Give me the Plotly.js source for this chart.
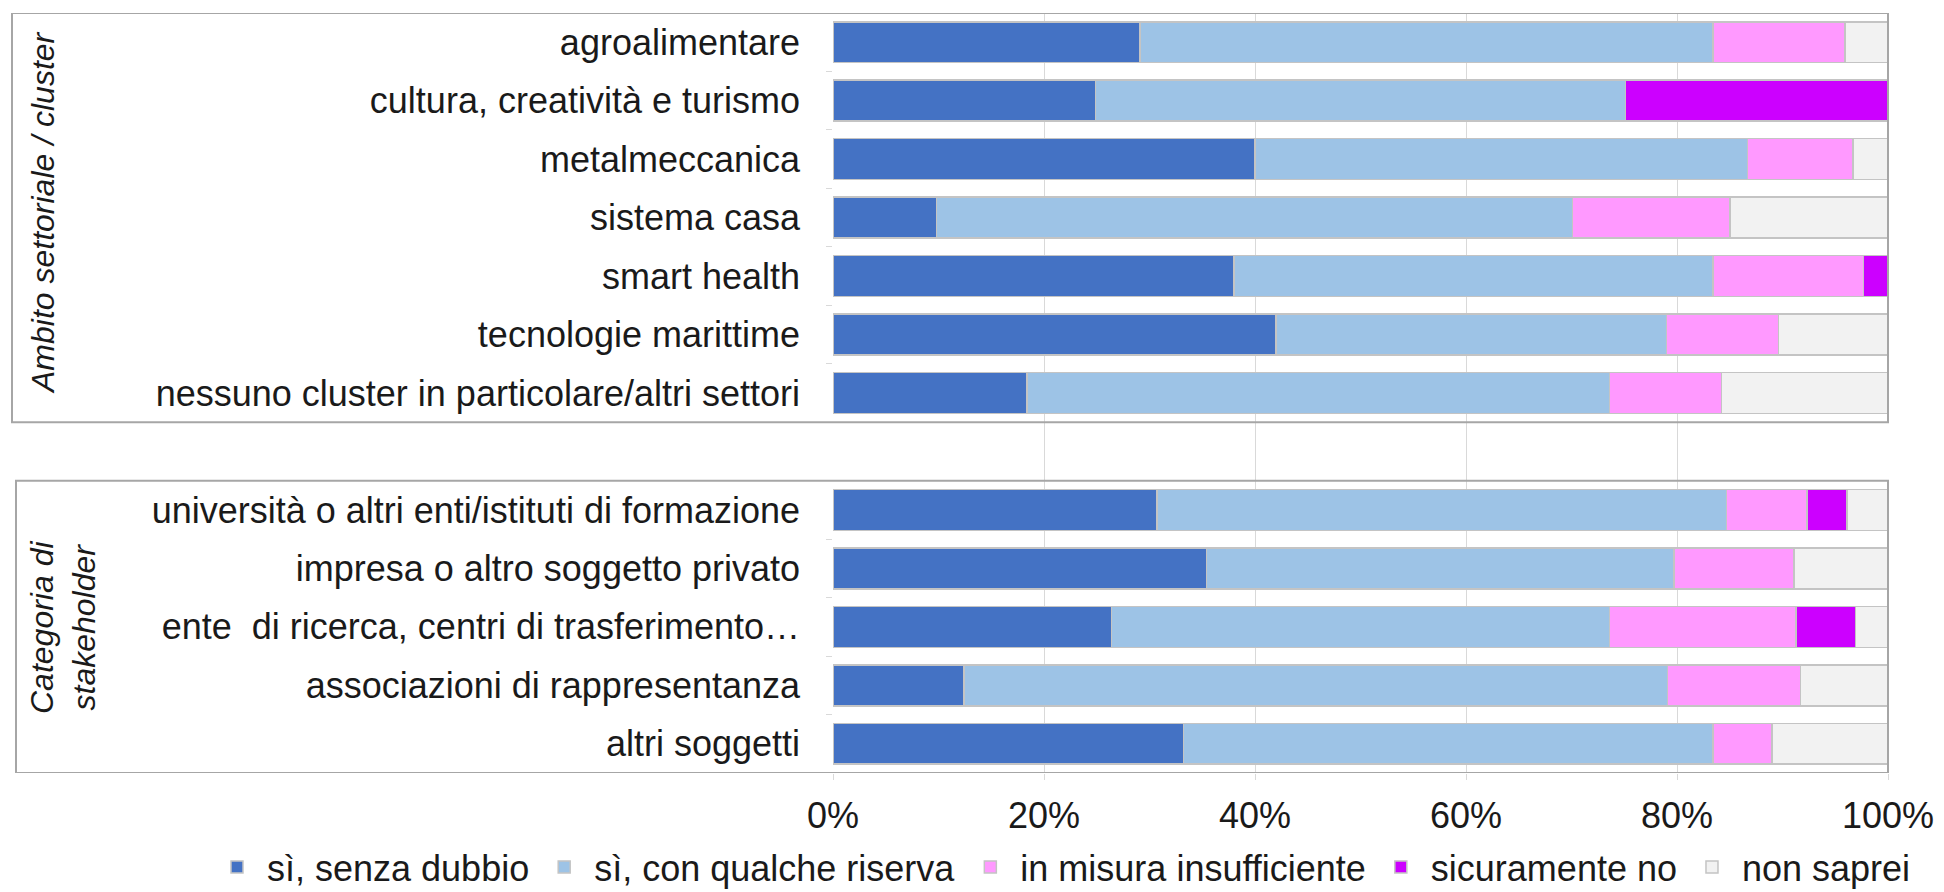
<!DOCTYPE html>
<html>
<head>
<meta charset="utf-8">
<script src="https://cdn.plot.ly/plotly-3.0.1.min.js"></script>
<style>
  html, body { margin: 0; padding: 0; background: #ffffff; }
  #chart { width: 1944px; height: 892px; }
</style>
</head>
<body>
<div id="chart"></div>
<script>
// Categories (top to bottom); the blank entry is the gap between the two groups
const categories = [
  'agroalimentare',
  'cultura, creatività e turismo',
  'metalmeccanica',
  'sistema casa',
  'smart health',
  'tecnologie marittime',
  'nessuno cluster in particolare/altri settori',
  ' ',
  'università o altri enti/istituti di formazione',
  'impresa o altro soggetto privato',
  'ente  di ricerca, centri di trasferimento…',
  'associazioni di rappresentanza',
  'altri soggetti'
];

// Series values (percent of respondents)
const siSenzaDubbio = [29.1, 24.9, 40.0, 9.8, 38.0, 42.0, 18.4, null, 30.7, 35.4, 26.4, 12.4, 33.2];
const siConRiserva  = [54.3, 50.2, 46.7, 60.3, 45.4, 37.0, 55.2, null, 54.0, 44.3, 47.2, 66.7, 50.2];
const insufficiente = [12.5, 0, 10.0, 14.9, 14.3, 10.6, 10.6, null, 7.6, 11.4, 17.7, 12.6, 5.6];
const sicuramenteNo = [0, 24.9, 0, 0, 2.3, 0, 0, null, 3.8, 0, 5.6, 0, 0];
const nonSaprei     = [4.1, 0, 3.3, 15.0, 0, 10.4, 15.8, null, 3.9, 8.9, 3.1, 8.3, 11.0];

const seriesNames = ['sì, senza dubbio', 'sì, con qualche riserva', 'in misura insufficiente', 'sicuramente no', 'non saprei'];
const xTickVals = [0, 20, 40, 60, 80, 100];
const xTickText = ['0%', '20%', '40%', '60%', '80%', '100%'];
const groupTitles = ['<i>Ambito settoriale / cluster</i>', '<i>Categoria di<br>stakeholder</i>'];

const colors = ['#4472C4', '#9DC3E6', '#FF99FF', '#CC00FF', '#F2F2F2'];
const seriesValues = [siSenzaDubbio, siConRiserva, insufficiente, sicuramenteNo, nonSaprei];

const FONT = '"Liberation Sans", Arial, Helvetica, sans-serif';

const traces = seriesValues.map((vals, i) => ({
  type: 'bar',
  orientation: 'h',
  name: seriesNames[i],
  x: vals,
  y: categories,
  marker: { color: colors[i], line: { color: '#c4c4c4', width: 1.5 } },
  hoverinfo: 'skip'
}));

// plot area geometry in pixels (for converting positions to paper units)
const L = 833, R = 56, T = 13, B = 119, W = 1944, H = 892;
const pw = W - L - R, ph = H - T - B;
const px = v => (v - L) / pw;
const py = v => (H - B - v) / ph;

const layout = {
  width: W,
  height: H,
  margin: { l: L, r: R, t: T, b: B, pad: 0, autoexpand: false },
  paper_bgcolor: '#ffffff',
  plot_bgcolor: '#ffffff',
  font: { family: FONT, size: 36, color: '#1a1a1a' },
  barmode: 'stack',
  bargap: 0.30,
  showlegend: true,
  legend: {
    orientation: 'h',
    xref: 'paper', yref: 'paper',
    x: px(207), xanchor: 'left',
    y: py(867), yanchor: 'middle',
    itemwidth: 50,
    font: { family: FONT, size: 36, color: '#1a1a1a' },
    traceorder: 'normal',
    itemclick: false,
    bgcolor: 'rgba(0,0,0,0)'
  },
  xaxis: {
    range: [0, 100],
    tickvals: xTickVals,
    ticktext: xTickText,
    showgrid: true,
    gridcolor: '#d9d9d9',
    gridwidth: 1,
    zeroline: false,
    showline: false,
    ticks: 'outside',
    ticklen: 6,
    tickcolor: '#d9d9d9',
    ticklabelstandoff: 5,
    tickfont: { family: FONT, size: 36, color: '#1a1a1a' },
    fixedrange: true
  },
  yaxis: {
    type: 'category',
    categoryorder: 'array',
    categoryarray: categories,
    autorange: false,
    range: [categories.length - 0.5, -0.5],
    showgrid: false,
    zeroline: false,
    showline: false,
    ticks: 'outside',
    tickson: 'boundaries',
    ticklen: 6,
    tickcolor: '#d9d9d9',
    ticklabelstandoff: 32,
    tickfont: { family: FONT, size: 36, color: '#1a1a1a' },
    fixedrange: true
  },
  shapes: [
    { type: 'rect', xref: 'paper', yref: 'y', x0: px(12), x1: 1, y0: -0.5, y1: 6.5,
      line: { color: '#a6a6a6', width: 2 }, fillcolor: 'rgba(0,0,0,0)', layer: 'above' },
    { type: 'rect', xref: 'paper', yref: 'y', x0: px(16), x1: 1, y0: 7.5, y1: 12.5,
      line: { color: '#a6a6a6', width: 2 }, fillcolor: 'rgba(0,0,0,0)', layer: 'above' }
  ],
  annotations: [
    { text: groupTitles[0], xref: 'paper', yref: 'paper', x: px(43), y: py(213),
      xanchor: 'center', yanchor: 'middle', textangle: -90, showarrow: false,
      font: { family: FONT, size: 32, color: '#1a1a1a' } },
    { text: groupTitles[1], xref: 'paper', yref: 'paper', x: px(63), y: py(628),
      xanchor: 'center', yanchor: 'middle', textangle: -90, showarrow: false,
      font: { family: FONT, size: 32, color: '#1a1a1a' } }
  ]
};

Plotly.newPlot('chart', traces, layout, { displayModeBar: false, staticPlot: true });
</script>
</body>
</html>
